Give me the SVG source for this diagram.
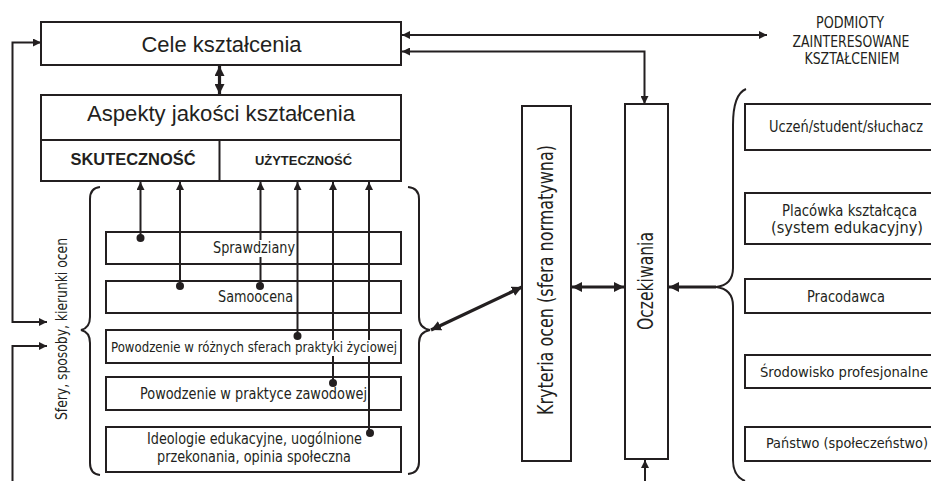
<svg xmlns="http://www.w3.org/2000/svg" width="931" height="481" viewBox="0 0 931 481">
<style>
.box{fill:none;stroke:#231f20;stroke-width:2}
.ln{fill:none;stroke:#231f20;stroke-width:2}
.th{fill:none;stroke:#231f20;stroke-width:3.2}
.dot{fill:#231f20}
.t{font-family:"Liberation Sans",Arial,sans-serif;fill:#231f20}
.b{font-family:"Liberation Sans",Arial,sans-serif;font-weight:bold;fill:#231f20}
.n{font-family:"Liberation Sans Narrow","DejaVu Sans Condensed","Liberation Sans",Arial,sans-serif;fill:#231f20}
.bg{fill:#ffffff}
</style>
<defs>
<marker id="ah" viewBox="0 0 10 10" refX="10" refY="5" markerWidth="8" markerHeight="8" markerUnits="userSpaceOnUse" orient="auto-start-reverse"><path d="M0,0 L10,5 L0,10 z" fill="#231f20"/></marker>
<marker id="ahT" viewBox="0 0 10 10" refX="10" refY="5" markerWidth="10" markerHeight="10" markerUnits="userSpaceOnUse" orient="auto-start-reverse"><path d="M0,0 L10,5 L0,10 z" fill="#231f20"/></marker>
</defs>
<rect x="0" y="0" width="931" height="481" fill="#ffffff"/>

<g id="connectors">
<line class="th" x1="219.5" y1="66" x2="219.5" y2="94" marker-start="url(#ahT)" marker-end="url(#ahT)"/>
<line class="ln" x1="402" y1="35" x2="767" y2="35" marker-start="url(#ah)" marker-end="url(#ah)"/>
<path class="ln" d="M402,51.5 H644.5 V104" marker-start="url(#ah)" marker-end="url(#ah)"/>
<path class="ln" d="M47,322 H12.5 V42.5 H41" marker-start="url(#ah)" marker-end="url(#ah)"/>
<path class="ln" d="M12.5,481 V346 H47" marker-end="url(#ah)"/>
<line class="ln" x1="140.5" y1="238" x2="140.5" y2="182" marker-end="url(#ah)"/>
<circle class="dot" cx="140.5" cy="238" r="4"/>
<line class="ln" x1="180" y1="286" x2="180" y2="182" marker-end="url(#ah)"/>
<circle class="dot" cx="180" cy="286" r="4"/>
<line class="ln" x1="260.5" y1="286" x2="260.5" y2="182" marker-end="url(#ah)"/>
<circle class="dot" cx="260" cy="286" r="4"/>
<line class="ln" x1="297.5" y1="336" x2="297.5" y2="182" marker-end="url(#ah)"/>
<circle class="dot" cx="297.5" cy="336" r="4"/>
<line class="ln" x1="333" y1="383" x2="333" y2="182" marker-end="url(#ah)"/>
<circle class="dot" cx="333" cy="383" r="4"/>
<line class="ln" x1="369" y1="433" x2="369" y2="182" marker-end="url(#ah)"/>
<circle class="dot" cx="370" cy="433" r="4"/>
<line class="th" x1="431" y1="330" x2="522" y2="287" marker-start="url(#ahT)" marker-end="url(#ahT)"/>
<line class="th" x1="572" y1="287" x2="624" y2="287" marker-start="url(#ahT)" marker-end="url(#ahT)"/>
<line class="th" x1="716" y1="287" x2="669" y2="287" marker-end="url(#ahT)"/>
<line class="ln" x1="645" y1="481" x2="645" y2="460" marker-end="url(#ah)"/>
</g>

<g id="braces">
<path class="ln" d="M100,187 Q90,188 90,199 L90,317 Q90,328 81,330 Q90,332 90,343 L90,463 Q90,474 100,475"/>
<path class="ln" d="M408,187 Q419,188 419,199 L419,317 Q419,328 430,330 Q419,332 419,343 L419,462 Q419,473 408,474"/>
<path class="ln" d="M746,89 C736,93 733,106 733,125 L733,268 Q733,285 716,287 Q733,289 733,306 L733,460 Q733,476 745,481"/>
</g>

<g id="cele">
<rect class="box" x="41" y="22" width="360" height="43"/>
<text class="t" x="221.5" y="52" font-size="21.5" text-anchor="middle" textLength="160" lengthAdjust="spacingAndGlyphs">Cele kształcenia</text>
</g>

<g id="aspekty">
<rect class="box" x="41" y="95" width="360" height="86"/>
<line class="ln" x1="41" y1="140" x2="401" y2="140"/>
<line class="ln" x1="219.5" y1="140" x2="219.5" y2="181"/>
<text class="t" x="221" y="120.5" font-size="21.5" text-anchor="middle" textLength="268" lengthAdjust="spacingAndGlyphs">Aspekty jakości kształcenia</text>
<text class="b" x="133" y="164.5" font-size="16" text-anchor="middle" textLength="125" lengthAdjust="spacingAndGlyphs">SKUTECZNOŚĆ</text>
<text class="b" x="303.5" y="164.5" font-size="13" text-anchor="middle" textLength="97" lengthAdjust="spacingAndGlyphs">UŻYTECZNOŚĆ</text>
</g>

<g id="sfery">
<text class="n" transform="translate(66.5,329) rotate(-90)" x="0" y="0" font-size="16" text-anchor="middle" textLength="182" lengthAdjust="spacingAndGlyphs">Sfery, sposoby, kierunki ocen</text>
</g>

<g id="sprawdziany">
<rect class="box" x="106" y="232" width="295" height="32"/>
<rect class="bg" x="212" y="240" width="84" height="17"/>
<text class="n" x="254" y="252.5" font-size="16" text-anchor="middle" textLength="82" lengthAdjust="spacingAndGlyphs">Sprawdziany</text>
</g>

<g id="samoocena">
<rect class="box" x="106" y="281" width="295" height="32"/>
<text class="n" x="255.5" y="302" font-size="16" text-anchor="middle" textLength="75" lengthAdjust="spacingAndGlyphs">Samoocena</text>
</g>

<g id="powodzenie-sfery">
<rect class="box" x="106" y="330" width="295" height="33"/>
<rect class="bg" x="110" y="340" width="288" height="16"/>
<text class="n" x="254" y="352" font-size="14" text-anchor="middle" textLength="286" lengthAdjust="spacingAndGlyphs">Powodzenie w różnych sferach praktyki życiowej</text>
</g>

<g id="powodzenie-zawodowe">
<rect class="box" x="106" y="377" width="295" height="33"/>
<text class="n" x="253.5" y="398.5" font-size="15.5" text-anchor="middle" textLength="227" lengthAdjust="spacingAndGlyphs">Powodzenie w praktyce zawodowej</text>
</g>

<g id="ideologie">
<rect class="box" x="106" y="427" width="295" height="45"/>
<text class="n" x="254.5" y="443.5" font-size="16" text-anchor="middle" textLength="215" lengthAdjust="spacingAndGlyphs">Ideologie edukacyjne, uogólnione</text>
<text class="n" x="254" y="462" font-size="16" text-anchor="middle" textLength="194" lengthAdjust="spacingAndGlyphs">przekonania, opinia społeczna</text>
</g>

<g id="kryteria">
<rect class="box" x="522" y="106" width="49" height="355"/>
<text class="n" transform="translate(553,280) rotate(-90)" x="0" y="0" font-size="21" text-anchor="middle" textLength="270" lengthAdjust="spacingAndGlyphs">Kryteria ocen (sfera normatywna)</text>
</g>

<g id="oczekiwania">
<rect class="box" x="625" y="104" width="43" height="355"/>
<text class="n" transform="translate(653,281) rotate(-90)" x="0" y="0" font-size="22" text-anchor="middle" textLength="98" lengthAdjust="spacingAndGlyphs">Oczekiwania</text>
</g>

<g id="podmioty">
<text class="n" x="850" y="28" font-size="15" text-anchor="middle" textLength="68" lengthAdjust="spacingAndGlyphs">PODMIOTY</text>
<text class="n" x="851" y="46.5" font-size="15" text-anchor="middle" textLength="117" lengthAdjust="spacingAndGlyphs">ZAINTERESOWANE</text>
<text class="n" x="852" y="64" font-size="15" text-anchor="middle" textLength="95" lengthAdjust="spacingAndGlyphs">KSZTAŁCENIEM</text>
</g>

<g id="uczen">
<path class="box" d="M931,104 H745 V150 H931"/>
<text class="n" x="846" y="132" font-size="15" text-anchor="middle" textLength="154" lengthAdjust="spacingAndGlyphs">Uczeń/student/słuchacz</text>
</g>

<g id="placowka">
<path class="box" d="M931,193 H745 V244 H931"/>
<text class="n" x="849.5" y="216" font-size="16" text-anchor="middle" textLength="135" lengthAdjust="spacingAndGlyphs">Placówka kształcąca</text>
<text class="n" x="847" y="233" font-size="16" text-anchor="middle" textLength="152" lengthAdjust="spacingAndGlyphs">(system edukacyjny)</text>
</g>

<g id="pracodawca">
<path class="box" d="M931,279 H745 V313 H931"/>
<text class="n" x="846" y="302" font-size="16" text-anchor="middle" textLength="78" lengthAdjust="spacingAndGlyphs">Pracodawca</text>
</g>

<g id="srodowisko">
<path class="box" d="M931,355 H745 V388 H931"/>
<text class="n" x="760" y="377" font-size="14.4" textLength="168" lengthAdjust="spacingAndGlyphs">Środowisko profesjonalne</text>
</g>

<g id="panstwo">
<path class="box" d="M931,427 H745 V461 H931"/>
<text class="n" x="766" y="448" font-size="14.2" textLength="162" lengthAdjust="spacingAndGlyphs">Państwo (społeczeństwo)</text>
</g>
</svg>
